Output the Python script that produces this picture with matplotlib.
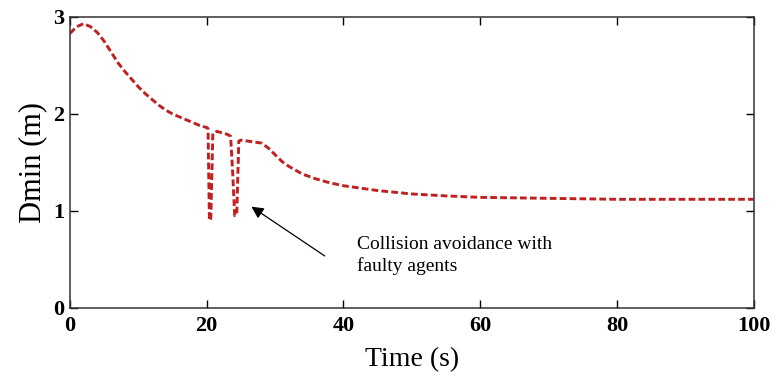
import matplotlib
matplotlib.use("Agg")
import matplotlib.pyplot as plt

time_s = [0, 1, 2, 3, 4, 5, 6, 7, 8, 9, 10, 11, 12, 13, 14, 15, 16, 17, 18, 19,
          20, 20.2, 20.4, 20.6, 20.9, 21.5, 22, 23, 23.5, 23.8, 24.1, 24.4, 24.7,
          25, 26, 27, 28, 29, 30, 31, 32, 34, 36, 38, 40, 45, 50, 55, 60, 70,
          80, 90, 100]
dmin = [2.83, 2.9, 2.93, 2.9, 2.84, 2.75, 2.64, 2.53, 2.44, 2.36, 2.28, 2.21,
        2.15, 2.09, 2.04, 2.0, 1.97, 1.94, 1.91, 1.88, 1.86, 1.85, 0.9, 0.92,
        1.8, 1.82, 1.81, 1.79, 1.77, 1.4, 0.95, 0.97, 1.72, 1.73, 1.72, 1.71,
        1.70, 1.65, 1.58, 1.51, 1.46, 1.38, 1.33, 1.29, 1.26, 1.21, 1.175,
        1.155, 1.14, 1.13, 1.12, 1.12, 1.12]

x_ticks = [0, 20, 40, 60, 80, 100]
y_ticks = [0, 1, 2, 3]
note = "Collision avoidance with\nfaulty agents"

serif = "Liberation Serif"

fig = plt.figure(figsize=(7.77, 3.76), dpi=100)
ax = fig.add_axes([0.090, 0.181, 0.880, 0.774])

ax.plot(time_s, dmin, color="#c0201f", linewidth=2.1, dashes=(2.3, 1.1))

ax.set_xlim(0, 100)
ax.set_ylim(0, 3)
ax.set_xticks(x_ticks)
ax.set_yticks(y_ticks)
ax.tick_params(direction="in", length=6, width=1, top=True, right=True,
               labelsize=16)
ax.tick_params(axis="x", pad=6)
ax.tick_params(axis="y", pad=4)
for lab in ax.get_xticklabels() + ax.get_yticklabels():
    lab.set_fontfamily(serif)
    lab.set_fontweight("bold")
for sp in ax.spines.values():
    sp.set_linewidth(1.1)
    sp.set_color("#333333")

ax.set_xlabel("Time (s)", fontsize=20, family=serif, labelpad=8)
ax.set_ylabel("Dmin (m)", fontsize=22, family=serif, labelpad=4)

ax.annotate("", xy=(26.2, 1.06), xytext=(37.6, 0.52),
            arrowprops=dict(arrowstyle="-|>", color="black", lw=0.9,
                            mutation_scale=18))
ax.text(42, 0.74, note, fontsize=14, family=serif, ha="left", va="top",
        linespacing=1.3)

fig.savefig("out.png", dpi=100)
